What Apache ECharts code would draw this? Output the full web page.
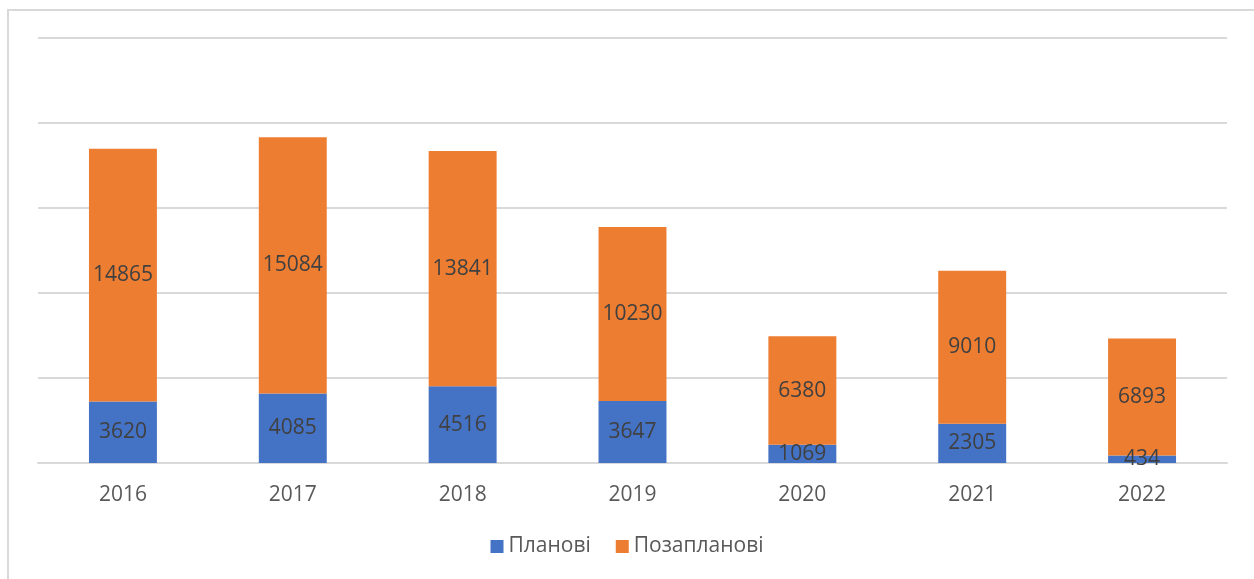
<!DOCTYPE html>
<html>
<head>
<meta charset="utf-8">
<script src="https://cdn.jsdelivr.net/npm/echarts@6/dist/echarts.min.js"></script>
<style>
  html, body { margin: 0; padding: 0; background: #fff; }
  #main { width: 1254px; height: 579px; }
</style>
</head>
<body>
<div id="main"></div>
<script>
const years = ['2016', '2017', '2018', '2019', '2020', '2021', '2022'];
const planned = [3620, 4085, 4516, 3647, 1069, 2305, 434];
const unplanned = [14865, 15084, 13841, 10230, 6380, 9010, 6893];

const chart = echarts.init(document.getElementById('main'));
const labelStyle = {
  show: true,
  position: 'inside',
  color: '#404040',
  fontSize: 21,
  fontFamily: 'Open Sans'
};

const option = {
  animation: false,
  backgroundColor: '#fff',
  graphic: [{
    type: 'rect',
    shape: { x: 8, y: 10, width: 1260, height: 600 },
    style: { fill: 'none', stroke: '#d9d9d9', lineWidth: 2 },
    silent: true
  }],
  grid: {
    left: 38,
    right: 27,
    top: 38,
    bottom: 116,
    containLabel: false
  },
  legend: {
    bottom: 17,
    left: 'center',
    itemWidth: 13,
    itemHeight: 13,
    itemGap: 25,
    icon: 'rect',
    textStyle: { color: '#595959', fontSize: 21, fontFamily: 'Open Sans' },
    data: ['Планові', 'Позапланові']
  },
  xAxis: {
    type: 'category',
    data: years,
    axisTick: { show: false },
    axisLine: { show: true, lineStyle: { color: '#d9d9d9', width: 2 } },
    axisLabel: { color: '#595959', fontSize: 21, fontFamily: 'Open Sans', margin: 22 }
  },
  yAxis: {
    type: 'value',
    min: 0,
    max: 25000,
    interval: 5000,
    axisLabel: { show: false },
    axisLine: { show: false },
    axisTick: { show: false },
    splitLine: { lineStyle: { color: '#d9d9d9', width: 2 } }
  },
  series: [{
    name: 'Планові',
    type: 'bar',
    stack: 'total',
    barWidth: '40%',
    itemStyle: { color: '#4472C4' },
    label: labelStyle,
    data: planned
  }, {
    name: 'Позапланові',
    type: 'bar',
    stack: 'total',
    barWidth: '40%',
    itemStyle: { color: '#ED7D31' },
    label: labelStyle,
    data: unplanned
  }]
};
chart.setOption(option);
</script>
</body>
</html>
